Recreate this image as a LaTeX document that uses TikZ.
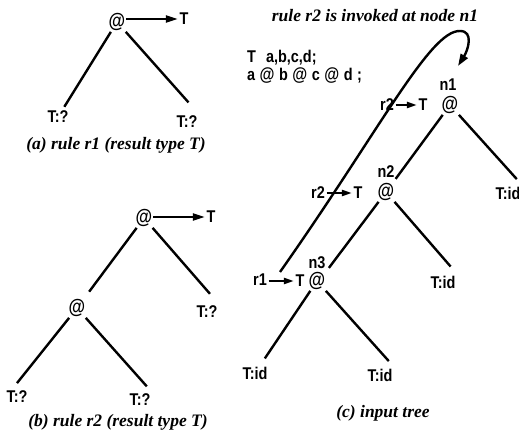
\documentclass[tikz,border=0pt]{standalone}
\usepackage{fontspec}
\usetikzlibrary{arrows.meta,calc}
\newfontfamily\labfont{Liberation Sans}[FakeStretch=0.85]
\newfontfamily\capfont{Liberation Serif}
\newcommand\bigat{{\fontsize{18}{18}\selectfont @}}
\tikzset{
  lab/.style={font=\labfont\bfseries\fontsize{17}{17}\selectfont, inner sep=1.5pt},
  atn/.style={font=\labfont\bfseries\fontsize{20}{20}\selectfont, inner sep=1pt},
  capt/.style={font=\capfont\bfseries\itshape\fontsize{17.5}{18}\selectfont, inner sep=0pt},
  edge/.style={line width=2.4pt},
  tarrow/.style={line width=2.2pt, -{Triangle[length=12pt,width=7pt]}},
  sarrow/.style={line width=2.2pt, -{Triangle[length=10pt,width=6pt]}},
}
\begin{document}
\begin{tikzpicture}[x=1pt,y=-1pt]
\useasboundingbox (0,0) rectangle (519,443);
% ---------- (a)
\node[atn] (a0) at (117,22) {@};
\node[lab] (aT) at (184,19) {T};
\node[lab] (aL) at (58,117) {T:?};
\node[lab] (aR) at (187,122) {T:?};
\node[capt] (ca) at (116,145) {(a) rule r1 (result type T)};
\draw[tarrow] (aT.west -| a0.east) -- (aT.west);
\draw[edge,shorten >=3pt] (a0) -- (aL);
\draw[edge,shorten >=16pt] (a0) -- (aR.north east);
% ---------- (b)
\node[atn] (b0) at (144,218) {@};
\node[lab] (bT) at (211,217) {T};
\node[atn] (bM) at (77,308) {@};
\node[lab] (bR) at (207,312) {T:?};
\node[lab] (bLL) at (17,397) {T:?};
\node[lab] (bLR) at (140,400) {T:?};
\node[capt] (cb) at (118,422) {(b) rule r2 (result type T)};
\draw[tarrow] (bT.west -| b0.east) -- (bT.west);
\draw[edge,shorten >=8pt] (b0) -- (bM);
\draw[edge,shorten >=14pt] (b0) -- (bR.north east);
\draw[edge,shorten >=8pt] (bM) -- ($(bLL.north)+(-5,0)$);
\draw[edge,shorten >=8pt] (bM) -- (bLR.north east);
% ---------- (c)
\node[capt] (title) at (375,16) {rule r2 is invoked at node n1};
\node[lab,anchor=base west,inner sep=0pt] (d1) at (247,63) {T\hspace{10pt}a,b,c,d;};
\node[lab,anchor=base west,inner sep=0pt] (d2) at (247,81) {a\hspace{4.5pt}\bigat\hspace{4.5pt}b\hspace{4.5pt}\bigat\hspace{4.5pt}c\hspace{4.5pt}\bigat\hspace{4.5pt}d\hspace{4.5pt};};
% n1
\node[lab] (l1) at (448,85) {n1};
\node[atn] (c1) at (450,105) {@};
\node[lab] (t1) at (423,105) {T};
\node[lab] (r1a) at (387,105) {r2};
% n2
\node[lab] (l2) at (386,172) {n2};
\node[atn] (c2) at (386,192) {@};
\node[lab] (t2) at (358,193) {T};
\node[lab] (r2a) at (318,193) {r2};
% n3
\node[lab] (l3) at (317,263) {n3};
\node[atn] (c3) at (317,281) {@};
\node[lab] (t3) at (300,281) {T};
\node[lab] (r3a) at (260,280) {r1};
% leaves
\node[lab] (c1R) at (508,193) {T:id};
\node[lab] (c2R) at (443,282) {T:id};
\node[lab] (c3L) at (255,373) {T:id};
\node[lab] (c3R) at (380,375) {T:id};
\node[capt] (cc) at (383,413) {(c) input tree};
% rule arrows
\draw[sarrow] (t1.west -| r1a.east) -- (t1.west);
\draw[sarrow] (t2.west -| r2a.east) -- (t2.west);
\draw[sarrow] (t3.west -| r3a.east) -- (t3.west);
% tree edges
\draw[edge,shorten >=4pt] (c1) -- (c2);
\draw[edge,shorten >=8pt] (c1) -- (c1R.north east);
\draw[edge,shorten >=4pt] (c2) -- (c3.north east);
\draw[edge,shorten >=10pt] (c2) -- (c2R.north east);
\draw[edge,shorten >=8pt] (c3) -- (c3L);
\draw[edge,shorten >=8pt] (c3) -- (c3R.north east);
% invocation curve
\coordinate (cs) at (280,272);
\coordinate (ce) at (458,66);
\draw[line width=2.4pt, -{Triangle[length=12pt,width=8pt]}]
  (cs) .. controls (380,130) and (430,30) .. (460,31)
       .. controls (474,31) and (468,50) .. (ce);
\end{tikzpicture}
\end{document}
